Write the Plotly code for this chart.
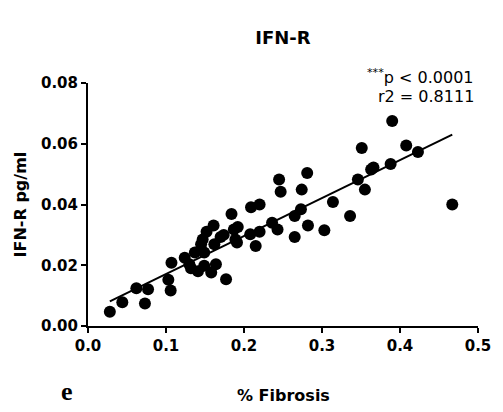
import plotly.graph_objects as go

fibrosis = [0.028, 0.044, 0.062, 0.073, 0.077, 0.103, 0.106, 0.107, 0.124, 0.130,
            0.132, 0.137, 0.141, 0.145, 0.147, 0.149, 0.149, 0.152, 0.158, 0.162,
            0.164, 0.161, 0.170, 0.174, 0.177, 0.184, 0.187, 0.189, 0.192, 0.191,
            0.208, 0.209, 0.215, 0.220, 0.220, 0.236, 0.243, 0.245, 0.247, 0.265,
            0.265, 0.273, 0.274, 0.281, 0.282, 0.303, 0.314, 0.336, 0.346, 0.351,
            0.355, 0.363, 0.366, 0.388, 0.390, 0.408, 0.423, 0.467]
ifnr = [0.0047, 0.0078, 0.0124, 0.0074, 0.0121, 0.0152, 0.0117, 0.0208, 0.0225, 0.0203,
        0.0190, 0.0242, 0.0180, 0.0269, 0.0285, 0.0242, 0.0198, 0.0310, 0.0176, 0.0269,
        0.0203, 0.0331, 0.0293, 0.0300, 0.0154, 0.0369, 0.0318, 0.0285, 0.0326, 0.0275,
        0.0302, 0.0391, 0.0263, 0.0400, 0.0310, 0.0340, 0.0318, 0.0482, 0.0442, 0.0362,
        0.0293, 0.0384, 0.0449, 0.0504, 0.0331, 0.0315, 0.0408, 0.0362, 0.0482, 0.0586,
        0.0449, 0.0515, 0.0522, 0.0533, 0.0675, 0.0594, 0.0573, 0.0400]

fit_x = [0.028, 0.467]
fit_slope = 0.125
fit_intercept = 0.0046
fit_y = [fit_slope * v + fit_intercept for v in fit_x]

x_ticks = [0.0, 0.1, 0.2, 0.3, 0.4, 0.5]
y_ticks = [0.00, 0.02, 0.04, 0.06, 0.08]

FONT = "DejaVu Sans"

fig = go.Figure()
fig.add_trace(go.Scatter(x=fibrosis, y=ifnr, mode="markers",
                         marker=dict(color="black", size=12, line=dict(width=0)),
                         showlegend=False, cliponaxis=False))
fig.add_trace(go.Scatter(x=fit_x, y=fit_y, mode="lines",
                         line=dict(color="black", width=2), showlegend=False))

axis_common = dict(showline=True, linecolor="black", linewidth=2, ticks="outside",
                   ticklen=5, tickwidth=2, tickcolor="black", showgrid=False,
                   zeroline=False, mirror=False,
                   tickfont=dict(family=FONT, size=15, color="black", weight="bold"))

fig.update_layout(
    width=503, height=412,
    margin=dict(l=88, r=20, t=83, b=86),
    paper_bgcolor="white", plot_bgcolor="white",
    title=dict(text="IFN-R", x=0.5, xref="paper", xanchor="center",
               y=1 - 38 / 412, yanchor="middle",
               font=dict(family=FONT, size=18, color="black", weight="bold")),
    xaxis=dict(range=[0, 0.5], tickvals=x_ticks, tickformat=".1f", **axis_common),
    yaxis=dict(range=[0, 0.08], tickvals=y_ticks, tickformat=".2f", **axis_common),
)

ann_font = dict(family=FONT, size=16, color="black")
fig.add_annotation(text="<sup>***</sup>p < 0.0001", xref="paper", yref="paper",
                   x=0.995, y=1.025, xanchor="right", yanchor="middle",
                   showarrow=False, font=ann_font)
fig.add_annotation(text="r2 = 0.8111", xref="paper", yref="paper",
                   x=0.995, y=0.945, xanchor="right", yanchor="middle",
                   showarrow=False, font=ann_font)
fig.add_annotation(text="IFN-R pg/ml", xref="paper", yref="paper",
                   x=-0.172, y=0.5, xanchor="center", yanchor="middle", textangle=-90,
                   showarrow=False,
                   font=dict(family=FONT, size=16, color="black", weight="bold"))
fig.add_annotation(text="% Fibrosis", xref="paper", yref="paper",
                   x=0.5, y=-0.284, xanchor="center", yanchor="middle",
                   showarrow=False,
                   font=dict(family=FONT, size=16, color="black", weight="bold"))
fig.add_annotation(text="e", xref="paper", yref="paper",
                   x=-0.053, y=-0.268, xanchor="center", yanchor="middle",
                   showarrow=False,
                   font=dict(family="Liberation Serif", size=26, color="black", weight="bold"))

fig.write_html("out.html", config={"displayModeBar": False},
               post_script="document.body.style.margin='0';document.body.style.overflow='hidden';")
